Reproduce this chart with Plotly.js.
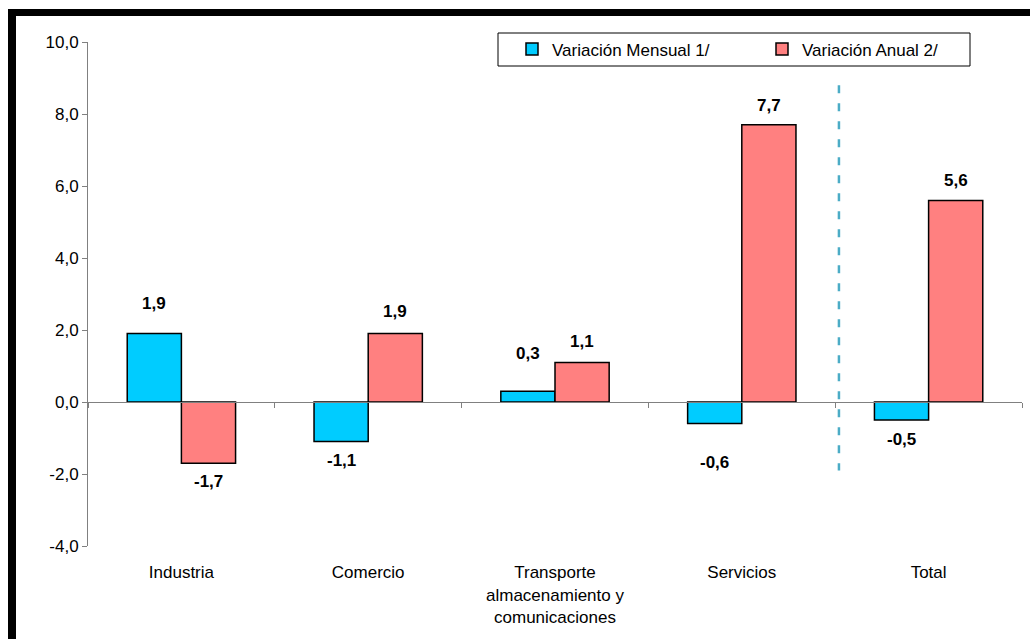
<!DOCTYPE html>
<html>
<head>
<meta charset="utf-8">
<script src="https://cdn.plot.ly/plotly-3.0.1.min.js"></script>
<style>
  html, body { margin: 0; padding: 0; background: #fff; }
  #wrap { position: relative; width: 1030px; height: 639px; overflow: hidden; }
  #chart { position: absolute; left: 0; top: 0; width: 1030px; height: 639px; }
  #frame { position: absolute; left: 8px; top: 9px; width: 1100px; height: 700px;
           border-left: 8px solid #000; border-top: 7px solid #000; pointer-events: none; }
</style>
</head>
<body>
<div id="wrap">
  <div id="chart"></div>
  <div id="frame"></div>
</div>
<script>
const categories = ["Industria", "Comercio", "Transporte<br>almacenamiento y<br>comunicaciones", "Servicios", "Total"];
const mensual = [1.9, -1.1, 0.3, -0.6, -0.5];
const anual = [-1.7, 1.9, 1.1, 7.7, 5.6];
const seriesNames = ["Variación Mensual 1/", "Variación Anual 2/"];
const yTicks = [-4, -2, 0, 2, 4, 6, 8, 10];

// label offsets (px) from bar end, style only
const shiftMensual = [30, 19, 38, 39, 19];
const shiftAnual = [18, 22, 21, 19, 20];

const font = "Liberation Sans, Arial, sans-serif";
const fmt = v => v.toFixed(1).replace('.', ',');

const traces = [
  { type: 'bar', name: seriesNames[0], x: categories, y: mensual,
    marker: { color: '#00CCFF', line: { color: '#000', width: 1.5 } }, hoverinfo: 'y' },
  { type: 'bar', name: seriesNames[1], x: categories, y: anual,
    marker: { color: '#FF8080', line: { color: '#000', width: 1.5 } }, hoverinfo: 'y' }
];

const annotations = [];
function addLabels(vals, shifts, xs) {
  vals.forEach((v, i) => {
    annotations.push({
      x: categories[i], y: v, xref: 'x', yref: 'y', text: fmt(v), showarrow: false,
      xshift: xs, yshift: (v >= 0 ? 1 : -1) * shifts[i], yanchor: 'middle',
      font: { family: font, size: 17, color: '#000', weight: 'bold' }
    });
  });
}
addLabels(mensual, shiftMensual, -27);
addLabels(anual, shiftAnual, 27);

const layout = {
  width: 1030, height: 639,
  margin: { l: 88, r: 8, t: 42, b: 93, autoexpand: false },
  paper_bgcolor: 'rgba(0,0,0,0)', plot_bgcolor: '#fff',
  separators: ',.',
  barmode: 'group', bargap: 0.42, bargroupgap: 0,
  font: { family: font, size: 16, color: '#000' },
  showlegend: true,
  legend: { orientation: 'h',
            x: (512 - 88) / 934, xanchor: 'left', y: (546 - 49.5) / 504, yanchor: 'middle',
            bgcolor: 'rgba(0,0,0,0)', borderwidth: 0, entrywidth: 205, entrywidthmode: 'pixels',
            font: { family: font, size: 17, color: '#000' }, traceorder: 'normal' },
  xaxis: {
    type: 'category', range: [-0.5, 4.5], showgrid: false, zeroline: false,
    showline: true, linecolor: '#808080', linewidth: 1,
    anchor: 'free', position: 4 / 14,
    ticks: 'outside', ticklen: 5, tickcolor: '#808080', tickson: 'boundaries',
    ticklabelstandoff: 155, tickfont: { family: font, size: 17, color: '#000' }
  },
  yaxis: {
    range: [-4, 10], tickvals: yTicks, ticktext: yTicks.map(fmt), showgrid: false, zeroline: false,
    showline: true, linecolor: '#808080', linewidth: 1,
    ticks: 'outside', ticklen: 5, tickcolor: '#808080',
    tickfont: { family: font, size: 17, color: '#000' }
  },
  shapes: [
    { type: 'line', xref: 'x', yref: 'y', x0: 3.52, x1: 3.52, y0: 8.8, y1: -1.9,
      line: { color: '#4BACC6', width: 2.5, dash: '8px,10px' } },
    { type: 'rect', xref: 'paper', yref: 'paper', x0: (498 - 88) / 934, x1: (970 - 88) / 934,
      y0: (546 - 66) / 504, y1: (546 - 33) / 504, line: { color: '#000', width: 1 }, fillcolor: 'rgba(0,0,0,0)' }
  ],
  annotations: annotations
};

Plotly.newPlot('chart', traces, layout, { displayModeBar: false, staticPlot: true });
</script>
</body>
</html>
